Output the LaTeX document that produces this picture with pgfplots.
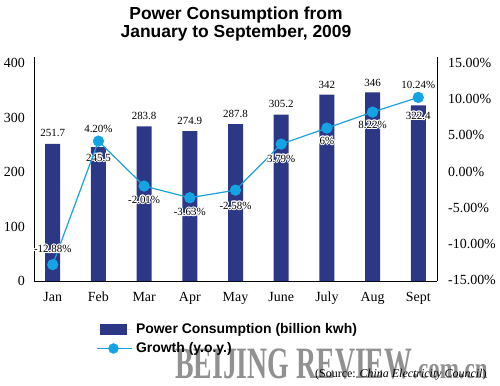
\documentclass[border=0pt]{standalone}
\usepackage{pgfplots}
\pgfplotsset{compat=1.18}
\usepackage{pgfplotstable}
\usepackage{fontspec}
\setmainfont{Liberation Serif}
\newfontfamily\sansfont{Liberation Sans}
\usepackage{contour}
\contourlength{1.0pt}
\definecolor{navy}{RGB}{44,56,134}
\definecolor{cyanline}{RGB}{30,160,220}
\definecolor{cyandot}{RGB}{20,164,227}
\definecolor{wmgray}{RGB}{145,145,145}

\pgfplotstableread{
x val lbl off
0 251.7 251.7 10
1 245.5 245.5 -11
2 283.8 283.8 10
3 274.9 274.9 10
4 287.8 287.8 10
5 305.2 305.2 10
6 342 342 9
7 346 346 9
8 322.4 322.4 -11
}\powertable

\pgfplotstableread{
x g lbl off
0 -12.88 -12.88 15
1 4.20 4.20 12
2 -2.01 -2.01 -14
3 -3.63 -3.63 -15
4 -2.58 -2.58 -16
5 3.79 3.79 -15
6 6 6 -13
7 8.22 8.22 -13
8 10.24 10.24 12
}\growthtable

\begin{document}
\begin{tikzpicture}
\useasboundingbox (0,0) rectangle (500bp,386bp);

\node[anchor=base west, inner sep=0pt, text=wmgray] at (175bp,8bp)
  {\bfseries\fontsize{45}{45}\selectfont\scalebox{0.62}[1]{BEIJING REVIEW}\fontsize{30}{30}\selectfont\scalebox{0.77}[1]{.com.cn}};

\begin{axis}[
  at={(34bp,105bp)}, anchor=south west,
  scale only axis, width=403bp, height=224bp,
  xmin=-0.41, xmax=8.41, ymin=0, ymax=411,
  axis x line*=bottom, axis y line*=left,
  axis line style={line width=1bp, black},
  xtick={0,1,2,3,4,5,6,7,8},
  xticklabels={Jan,Feb,Mar,Apr,May,June,July,Aug,Sept},
  ytick={0,100,200,300,400},
  major tick length=0pt,
  /pgf/number format/assume math mode=true,
  tick label style={font=\fontsize{14}{16}\selectfont},
  yticklabel style={inner sep=0pt, xshift=-9bp},
  xticklabel style={inner sep=0pt, yshift=-11bp},
  clip=false,
  legend cell align=left,
  legend style={at={(axis description cs:0.156,-0.1875)}, anchor=north west,
    draw=none, fill=none, inner sep=0pt, outer sep=0pt,
    row sep=6bp, column sep=3bp,
    font=\sansfont\bfseries\fontsize{14}{16}\selectfont,
    nodes={inner sep=0pt, text height=10bp, text depth=3bp}},
]
\addplot[ybar, bar width=15bp, fill=navy, draw=none,
  nodes near coords={\contour{white}{\pgfplotspointmeta}},
  point meta=explicit symbolic,
  visualization depends on={\thisrow{off} \as \lblshift},
  every node near coord/.append style={anchor=center, yshift=\lblshift bp,
     font=\fontsize{11}{13}\selectfont, text=black},
  legend image code/.code={\fill[navy] (3bp,-5.5bp) rectangle (30bp,5.5bp); \path (0bp,0bp) -- (35bp,0bp);}
] table[x=x, y=val, meta=lbl] {\powertable};
\addlegendentry{Power Consumption (billion kwh)}
\addlegendimage{legend image code/.code={\draw[cyanline, line width=1.2bp] (0bp,0bp) -- (35bp,0bp); \fill[cyandot] (16bp,0bp) circle (5bp);}}
\addlegendentry{Growth (y.o.y.)}
\end{axis}

\begin{axis}[
  at={(34bp,105bp)}, anchor=south west,
  scale only axis, width=403bp, height=224bp,
  xmin=-0.41, xmax=8.41, ymin=-15.14, ymax=15.83,
  axis x line=none, axis y line*=right,
  axis line style={line width=1bp, black},
  ytick={-15,-10,-5,0,5,10,15},
  major tick length=0pt,
  /pgf/number format/assume math mode=true,
  yticklabel={\pgfmathprintnumber[fixed,fixed zerofill,precision=2]{\tick}\%},
  yticklabel style={inner sep=0pt, xshift=11bp, font=\fontsize{14}{16}\selectfont},
  clip=false,
]
\addplot[cyanline, line width=1.2bp, mark=*, mark size=5bp,
  mark options={fill=cyandot, draw=cyandot},
  nodes near coords={\contour{white}{\pgfplotspointmeta\%}},
  point meta=explicit symbolic,
  visualization depends on={\thisrow{off} \as \lblshift},
  every node near coord/.append style={anchor=center, yshift=\lblshift bp,
     font=\fontsize{11}{13}\selectfont, text=black},
] table[x=x, y=g, meta=lbl] {\growthtable};
\end{axis}

\node[font=\sansfont\bfseries\fontsize{17.5}{18}\selectfont, align=center] at (236bp,362bp)
  {Power Consumption from\\January to September, 2009};

\node[anchor=base west, inner sep=0pt, font=\fontsize{12}{14}\selectfont] at (315bp,9bp)
  {(Source: \textit{China Electricity Council})};
\end{tikzpicture}
\end{document}
